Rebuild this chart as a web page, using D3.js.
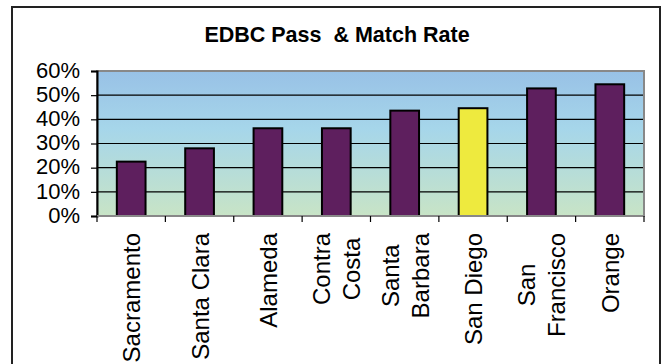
<!DOCTYPE html>
<html>
<head>
<meta charset="utf-8">
<script src="https://cdn.jsdelivr.net/npm/d3@7"></script>
<style>
  body { margin: 0; background: #fff; }
  svg { display: block; font-family: Arial, "Liberation Sans", sans-serif; }
</style>
</head>
<body>
<svg id="chart" width="664" height="364"></svg>
<script>
// ##### Data
var counties = ['Sacramento', 'Santa Clara', 'Alameda', 'Contra\nCosta', 'Santa\nBarbara',
                'San Diego', 'San\nFrancisco', 'Orange'];
var passRates = [0.225, 0.28, 0.363, 0.363, 0.436, 0.446, 0.528, 0.545];
var highlighted = ['San Diego'];
var yTicks = [0, 0.1, 0.2, 0.3, 0.4, 0.5, 0.6];
var chartTitle = 'EDBC Pass  & Match Rate';

// ##### Layout
var svg = d3.select('#chart');
var plot = { left: 97, right: 644, top: 71, bottom: 216 };

// Outer frame of the chart
svg.append('rect')
  .attr('x', 12).attr('y', 7)
  .attr('width', 648).attr('height', 380)
  .attr('fill', '#fff')
  .attr('stroke', '#222')
  .attr('stroke-width', 2);

// Title (keep the double space)
svg.append('text')
  .attr('x', 337).attr('y', 42)
  .attr('text-anchor', 'middle')
  .style('font-size', '21.5px')
  .style('font-weight', 'bold')
  .style('white-space', 'pre')
  .text(chartTitle);

// ##### Scales
var x = d3.scaleBand()
  .domain(counties)
  .range([plot.left, plot.right])
  .paddingInner(0.58)
  .paddingOuter(0.29);

var y = d3.scaleLinear()
  .domain([0, 0.6])
  .range([plot.bottom, plot.top]);

// Gradient background of the plot area
var grad = svg.append('defs').append('linearGradient')
  .attr('id', 'bg').attr('x1', 0).attr('y1', 0).attr('x2', 0).attr('y2', 1);
grad.append('stop').attr('offset', '0%').attr('stop-color', '#98c1e6');
grad.append('stop').attr('offset', '40%').attr('stop-color', '#a6d6ea');
grad.append('stop').attr('offset', '100%').attr('stop-color', '#c8e4c6');

svg.append('rect')
  .attr('x', plot.left).attr('y', plot.top)
  .attr('width', plot.right - plot.left)
  .attr('height', plot.bottom - plot.top)
  .attr('fill', 'url(#bg)')
  .attr('stroke', '#888')
  .attr('stroke-width', 2);

// Gridlines
svg.append('g')
  .selectAll('line')
  .data(yTicks.filter(function(d) { return d > 0 && d < 0.6; }))
  .enter()
  .append('line')
  .attr('x1', plot.left).attr('x2', plot.right - 1)
  .attr('y1', function(d) { return y(d); })
  .attr('y2', function(d) { return y(d); })
  .attr('stroke', '#000')
  .attr('stroke-width', 1.2);

// ##### Bars
svg.append('g')
  .selectAll('rect')
  .data(passRates)
  .enter()
  .append('rect')
  .attr('x', function(d, i) { return x(counties[i]); })
  .attr('y', function(d) { return y(d); })
  .attr('width', x.bandwidth())
  .attr('height', function(d) { return y(0) - y(d); })
  .attr('fill', function(d, i) {
    return highlighted.indexOf(counties[i]) >= 0 ? '#eeea3e' : '#5e1f5e';
  })
  .attr('stroke', '#000')
  .attr('stroke-width', 2);

// ##### Axes
var yAxis = d3.axisLeft(y)
  .tickValues(yTicks)
  .tickFormat(d3.format('.0%'))
  .tickSize(6)
  .tickPadding(11);

var yG = svg.append('g')
  .attr('transform', 'translate(' + plot.left + ',0)')
  .call(yAxis);
yG.select('.domain').attr('stroke', '#000').attr('stroke-width', 2);
yG.selectAll('.tick line').attr('stroke', '#000').attr('stroke-width', 1.2);
yG.selectAll('text')
  .style('font-size', '22px')
  .style('font-family', 'Arial, "Liberation Sans", sans-serif')
  .attr('dy', '0.28em')
  .attr('fill', '#000');

// X axis: ticks at the band boundaries
var edges = d3.range(counties.length + 1).map(function(i) {
  return plot.left + i * x.step();
});
svg.append('line')
  .attr('x1', plot.left).attr('x2', plot.right)
  .attr('y1', plot.bottom).attr('y2', plot.bottom)
  .attr('stroke', '#888').attr('stroke-width', 2);
svg.append('g')
  .selectAll('line')
  .data(edges)
  .enter()
  .append('line')
  .attr('x1', function(d) { return d; }).attr('x2', function(d) { return d; })
  .attr('y1', plot.bottom).attr('y2', plot.bottom + 6)
  .attr('stroke', '#000').attr('stroke-width', 1.2);

// Category labels, rotated; multi-line blocks end-aligned near the axis
var labelTop = 233;
var lineGap = 30;
var labelG = svg.append('g');
counties.forEach(function(c) {
  var lines = c.split('\n');
  var cx = x(c) + x.bandwidth() / 2;
  var texts = lines.map(function(line) {
    return labelG.append('text')
      .style('font-size', '24px')
      .attr('text-anchor', 'middle')
      .text(line);
  });
  var maxW = d3.max(texts, function(t) { return t.node().getComputedTextLength(); });
  var cy = labelTop + maxW / 2;
  texts.forEach(function(t, j) {
    var off = (j - (lines.length - 1) / 2) * lineGap;
    var px = cx + off + 9;
    t.attr('transform', 'translate(' + px + ',' + cy + ') rotate(-90)');
  });
});
</script>
</body>
</html>
